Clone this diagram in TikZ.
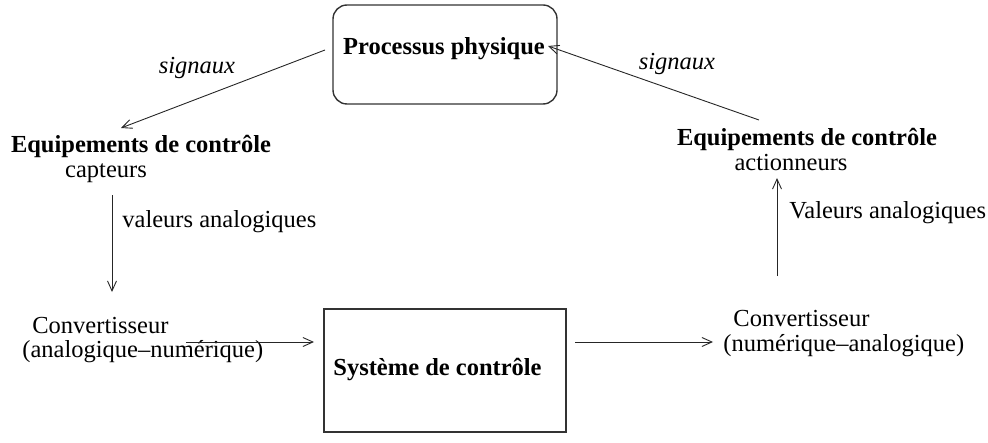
\documentclass[tikz,border=0pt]{standalone}
\usepackage{fontspec}
\setmainfont{Liberation Serif}
\usetikzlibrary{arrows.meta}
\begin{document}
\begin{tikzpicture}[x=0.5pt,y=-0.5pt,
  txt/.style={font=\fontsize{12.25}{14}\selectfont, inner sep=0pt},
  bold/.style={inner sep=0pt, font=\fontsize{12.25}{14}\selectfont\bfseries},
  ital/.style={inner sep=0pt, font=\fontsize{12.25}{14}\selectfont\itshape},
  arr/.style={-{Straight Barb[length=5pt,width=4.5pt]}, line width=0.45pt, draw=black!85},
  box/.style={draw=black!80, line width=0.7pt, inner sep=0pt}]
\useasboundingbox (0,0) rectangle (988,443);
% boxes
\node[box, rounded corners=7pt, minimum width=112pt, minimum height=49.5pt] (proc) at (445,54.5) {};
\node[bold, anchor=base] (proct) at (444,55) {Processus physique};
\node[box, minimum width=121pt, minimum height=61.5pt] (sys) at (445,370.5) {};
\node[bold, anchor=base west] (syst) at (333,375) {Système de contrôle};
% left side
\node[bold, anchor=base] (eqL) at (141,153) {Equipements de contrôle};
\node[txt, anchor=base] (capt) at (106,177) {capteurs};
\node[txt, anchor=base west] (convL1) at (32,333) {Convertisseur};
\node[txt, anchor=base west] (convL2) at (22,357) {(analogique--numérique)};
% right side
\node[bold, anchor=base] (eqR) at (807,146) {Equipements de contrôle};
\node[txt, anchor=base] (act) at (791,170) {actionneurs};
\node[txt, anchor=base west] (convR1) at (733,326) {Convertisseur};
\node[txt, anchor=base west] (convR2) at (723,351) {(numérique--analogique)};
% labels
\node[ital, anchor=base] (sigL) at (197,74) {signaux};
\node[ital, anchor=base] (sigR) at (677,70) {signaux};
\node[txt, anchor=base west] (valL) at (122,227) {valeurs analogiques};
\node[txt, anchor=base west] (valR) at (789,218) {Valeurs analogiques};
% connector ends
\coordinate (a1s) at (325,50);  \coordinate (a1e) at (121,128);
\coordinate (a2s) at (112,195); \coordinate (a2e) at (112,292);
\coordinate (a3s) at (186,342); \coordinate (a3e) at (314,342);
\coordinate (a4s) at (575,342); \coordinate (a4e) at (713,342);
\coordinate (a5s) at (777,276); \coordinate (a5e) at (777,178);
\coordinate (a6s) at (759,120); \coordinate (a6e) at (548,46);
\draw[arr] (a1s) -- (a1e);
\draw[arr] (a2s) -- (a2e);
\draw[arr] (a3s) -- (a3e);
\draw[arr] (a4s) -- (a4e);
\draw[arr] (a5s) -- (a5e);
\draw[arr] (a6s) -- (a6e);
\end{tikzpicture}
\end{document}
